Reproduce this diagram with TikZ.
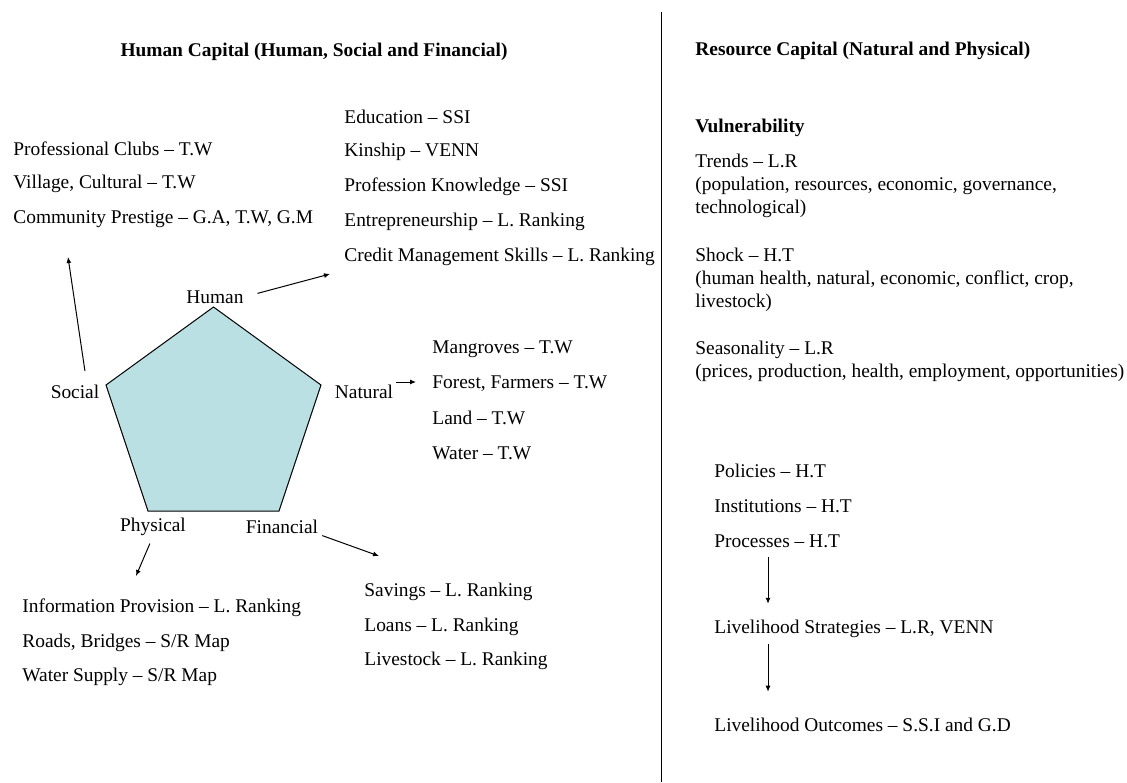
\documentclass[tikz,border=0pt]{standalone}
\usepackage{fontspec}
\setmainfont{Liberation Serif}
\usetikzlibrary{arrows.meta}
\definecolor{pentafill}{RGB}{187,224,227}
\tikzset{every node/.style={font=\fontsize{9.7}{11.5}\selectfont,inner sep=0pt}}
\tikzset{txt/.style={anchor=west,align=left},
  hdr/.style={anchor=west,font=\fontsize{9.7}{11.5}\selectfont\bfseries},
  arr/.style={-{Latex[length=3pt,width=2.5pt]},line width=0.5pt}}
\newcommand{\capitem}[4][]{\node[txt,#1] at (#2) (#3) {#4}}

\begin{document}
\begin{tikzpicture}[x=0.5pt,y=-0.5pt]
  \useasboundingbox (0,0) rectangle (1127,782);

  \node[hdr,anchor=center] at (314,52) (humcap) {Human Capital (Human, Social and Financial)};
  \node[hdr] at (695,51) (rescap) {Resource Capital (Natural and Physical)};
  \coordinate (divtop) at (661,12);
  \coordinate (divbot) at (661,782);
  \draw[line width=0.5pt] (divtop) -- (divbot);

  % pentagon
  \coordinate (pt) at (213.5,307);
  \coordinate (pr) at (321,385);
  \coordinate (pbr) at (279,511);
  \coordinate (pbl) at (148,511);
  \coordinate (pl) at (106,385);
  \draw[fill=pentafill,line width=0.5pt] (pt) -- (pr) -- (pbr) -- (pbl) -- (pl) -- cycle;

  \node at (215,297) (hum) {Human};
  \node at (75,392) (soc) {Social};
  \node at (364,392) (nat) {Natural};
  \node at (153,527) (phy) {Physical};
  \node at (282,527) (fin) {Financial};

  \capitem{13,149}{club}{Professional Clubs -- T.W};
  \capitem{13,184}{vill}{Village, Cultural -- T.W};
  \capitem{13,219}{comm}{Community Prestige -- G.A, T.W, G.M};

  \capitem{344,117}{edu}{Education -- SSI};
  \capitem{344,152}{kin}{Kinship -- VENN};
  \capitem{344,187}{prof}{Profession Knowledge -- SSI};
  \capitem{344,222}{entr}{Entrepreneurship -- L. Ranking};
  \capitem{344,257}{cred}{Credit Management Skills -- L. Ranking};

  \capitem{432,349}{mang}{Mangroves -- T.W};
  \capitem{432,384}{forest}{Forest, Farmers -- T.W};
  \capitem{432,418}{land}{Land -- T.W};
  \capitem{432,453}{water}{Water -- T.W};

  \capitem{22,608}{info}{Information Provision -- L. Ranking};
  \capitem{22,643}{road}{Roads, Bridges -- S/R Map};
  \capitem{22,677}{wsup}{Water Supply -- S/R Map};

  \capitem{364,592}{sav}{Savings -- L. Ranking};
  \capitem{364,627}{loan}{Loans -- L. Ranking};
  \capitem{364,661}{live}{Livestock -- L. Ranking};

  \coordinate (humtip) at (330,274);
  \coordinate (soctip) at (68,257);
  \coordinate (nattip) at (416,382);
  \coordinate (phytip) at (136,576);
  \coordinate (fintip) at (379,556);
  \draw[arr,shorten <=7pt] (hum.east) -- (humtip);
  \draw[arr,shorten <=7pt] ([xshift=6pt]soc.north) -- (soctip);
  \draw[arr,shorten <=1.5pt] ([yshift=5pt]nat.east) -- (nattip);
  \draw[arr,shorten <=4pt] (phy.south) -- (phytip);
  \draw[arr,shorten <=2pt] (fin.south east) -- (fintip);

  % right column
  \node[hdr] at (695,128) (vul) {Vulnerability};
  \capitem{695,186}{trend}{Trends -- L.R\\(population, resources, economic, governance,\\technological)};
  \capitem{695,280}{shock}{Shock -- H.T\\(human health, natural, economic, conflict, crop,\\livestock)};
  \capitem{695,361.5}{season}{Seasonality -- L.R\\(prices, production, health, employment, opportunities)};

  \capitem{714,471}{pol}{Policies -- H.T};
  \capitem{714,506}{inst}{Institutions -- H.T};
  \capitem{714,541}{proc}{Processes -- H.T};
  \capitem{714,629}{strat}{Livelihood Strategies -- L.R, VENN};
  \capitem{714,725}{outc}{Livelihood Outcomes -- S.S.I and G.D};

  \draw[arr,shorten <=4.5pt,shorten >=8pt] ([xshift=27pt]proc.south west) -- ([xshift=27pt]strat.north west);
  \draw[arr,shorten <=2.7pt,shorten >=13pt] ([xshift=27pt]strat.south west) -- ([xshift=27pt]outc.north west);
\end{tikzpicture}
\end{document}
